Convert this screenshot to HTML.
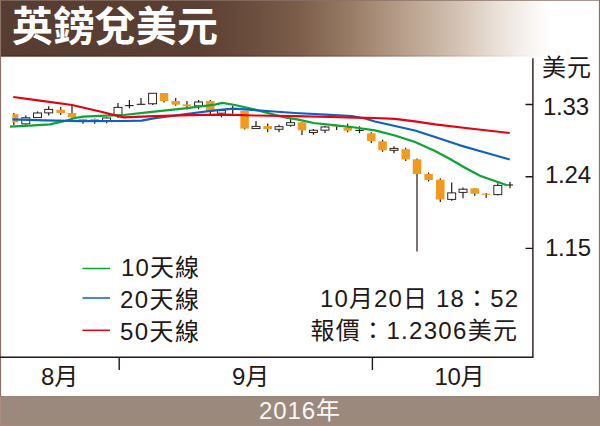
<!DOCTYPE html>
<html lang="zh-Hant"><head><meta charset="utf-8"><title>英鎊兌美元</title>
<style>
html,body{margin:0;padding:0;background:#fff;}
body{width:600px;height:426px;overflow:hidden;font-family:"Liberation Sans",sans-serif;}
svg{display:block}
</style></head><body>
<svg width="600" height="426" viewBox="0 0 600 426" role="img" aria-label="英鎊兌美元 2016年 8月 9月 10月">
<defs>
<linearGradient id="hg" x1="0" y1="0" x2="600" y2="0" gradientUnits="userSpaceOnUse">
<stop offset="0" stop-color="#573c31"/>
<stop offset="0.33" stop-color="#5b3f33"/>
<stop offset="0.417" stop-color="#6a4d3d"/>
<stop offset="0.5" stop-color="#7c5e4b"/>
<stop offset="0.583" stop-color="#987b65"/>
<stop offset="0.667" stop-color="#b69d89"/>
<stop offset="0.75" stop-color="#cfbdad"/>
<stop offset="0.833" stop-color="#ebe2da"/>
<stop offset="0.915" stop-color="#ffffff"/>
</linearGradient>
<linearGradient id="hl" x1="0" y1="0" x2="600" y2="0" gradientUnits="userSpaceOnUse"><stop offset="0" stop-color="#2a1a14" stop-opacity="0.4"/><stop offset="0.5" stop-color="#2a1a14" stop-opacity="0.25"/><stop offset="0.9" stop-color="#2a1a14" stop-opacity="0"/></linearGradient>
</defs>
<rect width="600" height="426" fill="#fff"/>
<rect x="0" y="0" width="600" height="56.6" fill="url(#hg)"/>
<rect x="0" y="55.2" width="600" height="1.4" fill="url(#hl)"/>
<rect x="0" y="0" width="1.1" height="397" fill="#8a7268"/>
<rect x="598.9" y="0" width="1.1" height="397" fill="#8a7268"/>
<rect x="0" y="0" width="600" height="1" fill="#8a7268" fill-opacity="0.75"/>
<rect x="0" y="396.1" width="600" height="29.9" fill="#9c897e"/>
<rect x="0" y="396.1" width="600" height="0.9" fill="#8c786d" fill-opacity="0.55"/>
<rect x="0" y="397" width="1" height="29" fill="#a98e80"/>
<rect x="0" y="425" width="600" height="1" fill="#a98e80" fill-opacity="0.8"/>
<g aria-label="英鎊兌美元"><text x="12" y="41" font-family="'Liberation Sans','Noto Sans CJK TC',sans-serif" font-size="41" font-weight="bold" fill="#fff" textLength="206" lengthAdjust="spacing">英鎊兌美元</text></g>
<g><path d="M13.8 113V125" stroke="#231815" stroke-width="1.2"/><rect x="12.4" y="114.2" width="5.9" height="8.2" fill="#f39a1e"/>
<path d="M25.8 115.4V124.7" stroke="#231815" stroke-width="1.2"/><rect x="21.83" y="117.78" width="7.95" height="6.1" fill="#fff" stroke="#231815" stroke-width="0.95"/>
<path d="M37.5 111.4V117.7" stroke="#231815" stroke-width="1.2"/><rect x="33.53" y="112.98" width="7.95" height="4.6" fill="#fff" stroke="#231815" stroke-width="0.95"/>
<path d="M48.7 106.3V115.4" stroke="#231815" stroke-width="1.2"/><rect x="44.73" y="109.38" width="7.95" height="3.5" fill="#fff" stroke="#231815" stroke-width="0.95"/>
<path d="M60.7 107V115" stroke="#231815" stroke-width="1.2"/><rect x="56.45" y="109.7" width="8.5" height="3.3" fill="#f39a1e"/>
<path d="M72 105V117.4" stroke="#231815" stroke-width="1.2"/><rect x="67.75" y="113" width="8.5" height="4.4" fill="#f39a1e"/>
<path d="M83 118.8V123.7" stroke="#231815" stroke-width="1.2"/><rect x="78.75" y="118.8" width="8.5" height="1.2" fill="#f39a1e"/>
<path d="M94.7 118.4V123.7" stroke="#231815" stroke-width="1.2"/><rect x="90.45" y="119" width="8.5" height="1.2" fill="#f39a1e"/>
<path d="M106.6 117.6V123.3" stroke="#231815" stroke-width="1.2"/><rect x="102.63" y="117.98" width="7.95" height="2.6" fill="#fff" stroke="#231815" stroke-width="0.95"/>
<path d="M118 103V118" stroke="#231815" stroke-width="1.2"/><rect x="114.03" y="107.38" width="7.95" height="7.5" fill="#fff" stroke="#231815" stroke-width="0.95"/>
<path d="M129.4 100V108.3" stroke="#231815" stroke-width="1.2"/><path d="M125.15 105.6H133.65" stroke="#231815" stroke-width="1.1"/>
<path d="M141 98V104.3" stroke="#231815" stroke-width="1.2"/><path d="M136.75 104.3H145.25" stroke="#231815" stroke-width="1.1"/>
<path d="M152.6 92.9V105" stroke="#231815" stroke-width="1.2"/><rect x="148.63" y="93.28" width="7.95" height="10.5" fill="#fff" stroke="#231815" stroke-width="0.95"/>
<path d="M164 93V102.4" stroke="#231815" stroke-width="1.2"/><rect x="159.75" y="93" width="8.5" height="8" fill="#f39a1e"/>
<path d="M175.7 98V105.7" stroke="#231815" stroke-width="1.2"/><rect x="171.45" y="101" width="8.5" height="3.7" fill="#f39a1e"/>
<path d="M187 101V109.6" stroke="#231815" stroke-width="1.2"/><rect x="182.75" y="104.4" width="8.5" height="1.9" fill="#f39a1e"/>
<path d="M198.6 100V109.3" stroke="#231815" stroke-width="1.2"/><rect x="194.63" y="101.98" width="7.95" height="3.9" fill="#fff" stroke="#231815" stroke-width="0.95"/>
<path d="M210.3 100V114.4" stroke="#231815" stroke-width="1.2"/><rect x="206.05" y="101" width="8.5" height="11" fill="#f39a1e"/>
<path d="M221.4 110.2V117.3" stroke="#231815" stroke-width="1.2"/><rect x="217.43" y="110.58" width="7.95" height="2.6" fill="#fff" stroke="#231815" stroke-width="0.95"/>
<path d="M232.7 105.7V113.7" stroke="#231815" stroke-width="1.2"/>
<path d="M244.6 111V129.5" stroke="#231815" stroke-width="1.2"/><rect x="240.35" y="111" width="8.5" height="17.6" fill="#f39a1e"/>
<path d="M256 121V128.7" stroke="#231815" stroke-width="1.2"/><rect x="252.03" y="126.38" width="7.95" height="2.2" fill="#fff" stroke="#231815" stroke-width="0.95"/>
<path d="M267.7 123.4V132.3" stroke="#231815" stroke-width="1.2"/><rect x="263.45" y="126" width="8.5" height="3" fill="#f39a1e"/>
<path d="M279 124.7V132.3" stroke="#231815" stroke-width="1.2"/><rect x="275.03" y="126.68" width="7.95" height="2.6" fill="#fff" stroke="#231815" stroke-width="0.95"/>
<path d="M290.6 119V126.7" stroke="#231815" stroke-width="1.2"/><rect x="286.63" y="122.68" width="7.95" height="2.6" fill="#fff" stroke="#231815" stroke-width="0.95"/>
<path d="M302 122.3V135" stroke="#231815" stroke-width="1.2"/><rect x="297.75" y="122.3" width="8.5" height="8" fill="#f39a1e"/>
<path d="M313.4 129V134.7" stroke="#231815" stroke-width="1.2"/><rect x="309.43" y="130.28" width="7.95" height="2.2" fill="#fff" stroke="#231815" stroke-width="0.95"/>
<path d="M325 125.7V133" stroke="#231815" stroke-width="1.2"/><rect x="321.03" y="126.98" width="7.95" height="3.2" fill="#fff" stroke="#231815" stroke-width="0.95"/>
<path d="M336.6 125.8V130" stroke="#231815" stroke-width="1.2"/><rect x="332.35" y="125.8" width="8.5" height="0.8" fill="#f39a1e"/>
<path d="M347.7 123.7V132.3" stroke="#231815" stroke-width="1.2"/><rect x="343.45" y="127.7" width="8.5" height="3" fill="#f39a1e"/>
<path d="M359.5 126.3V133.2" stroke="#231815" stroke-width="1.2"/><path d="M355.25 130.4H363.75" stroke="#231815" stroke-width="1.1"/>
<path d="M371.3 132.3V143" stroke="#231815" stroke-width="1.2"/><rect x="367.05" y="133.3" width="8.5" height="7.7" fill="#f39a1e"/>
<path d="M382.6 139.7V151.7" stroke="#231815" stroke-width="1.2"/><rect x="378.35" y="141.3" width="8.5" height="9" fill="#f39a1e"/>
<path d="M394 146.3V153.3" stroke="#231815" stroke-width="1.2"/><rect x="390.03" y="148.38" width="7.95" height="1.9" fill="#fff" stroke="#231815" stroke-width="0.95"/>
<path d="M405.7 147.7V161" stroke="#231815" stroke-width="1.2"/><rect x="401.45" y="149.2" width="8.5" height="10.1" fill="#f39a1e"/>
<path d="M417 158.4V251.5" stroke="#231815" stroke-width="1.2"/><rect x="412.75" y="159.3" width="8.5" height="14.7" fill="#f39a1e"/>
<path d="M428.6 172.4V181.6" stroke="#231815" stroke-width="1.2"/><rect x="424.35" y="174" width="8.5" height="6" fill="#f39a1e"/>
<path d="M440.3 178.3V202" stroke="#231815" stroke-width="1.2"/><rect x="436.05" y="179.7" width="8.5" height="19.8" fill="#f39a1e"/>
<path d="M451.7 182.5V200.8" stroke="#231815" stroke-width="1.2"/><rect x="447.73" y="192.88" width="7.95" height="6.5" fill="#fff" stroke="#231815" stroke-width="0.95"/>
<path d="M463 187.5V198.3" stroke="#231815" stroke-width="1.2"/><rect x="459.03" y="189.18" width="7.95" height="3.2" fill="#fff" stroke="#231815" stroke-width="0.95"/>
<path d="M474.7 188.3V195.8" stroke="#231815" stroke-width="1.2"/><rect x="470.45" y="188.3" width="8.5" height="5.4" fill="#f39a1e"/>
<path d="M486.2 193V197.8" stroke="#231815" stroke-width="1.2"/><path d="M481.95 194.2H490.45" stroke="#f39a1e" stroke-width="1.2"/>
<path d="M497.8 183.3V195.5" stroke="#231815" stroke-width="1.2"/><rect x="493.83" y="185.38" width="7.95" height="9.2" fill="#fff" stroke="#231815" stroke-width="0.95"/>
<path d="M510 182V188.3" stroke="#231815" stroke-width="1.2"/><path d="M507 185H513" stroke="#231815" stroke-width="1.1"/></g>
<g><path d="M10 126.7L30 125.7L50 124.3L65 121L75 118L83 116.7L100 115.8L123.7 115L145 112.6L185 108.4L215 104.6L222.3 102.9L235 105L255 109.7L285 117.5L298.3 119.7L313.7 123L338.3 125.7L355 127.5L375 130.3L395 135.5L415 142L435 151L450 159L465 167.7L480 175.8L507 185.3" fill="none" stroke="#0ba535" stroke-width="2.25" stroke-linejoin="round" stroke-linecap="butt"/><path d="M12.4 119.4L45 120.3L80 121.2L125 121L141.7 120.6L155 118.2L190 113.5L215 110.3L233 108.7L260 110.5L295 113L330 114.8L351.7 116L365 118.5L375 121.5L395 126L415 130.5L435 137L460 145.3L485 152.5L509.7 159.5" fill="none" stroke="#0c62c2" stroke-width="2.25" stroke-linejoin="round" stroke-linecap="butt"/><path d="M13.3 97L40 100.7L72 105L100 111.5L123.7 117.3L155 116.2L190 115.2L225 114.6L255 115.5L295 116.2L330 117L355 117.7L375 118L395 118.8L415 121.3L435 124.3L470 128.5L509.7 133" fill="none" stroke="#e60012" stroke-width="2.25" stroke-linejoin="round" stroke-linecap="butt"/></g>
<g stroke="#231815" stroke-width="1.4" fill="none">
<path d="M0 357.3H533.5M532.9 58.3V357.9"/>
<path d="M119.2 357.3V370M372.4 357.3V370"/>
<path d="M525.5 104.5H533M525.5 176.7H533M525.5 248.4H533"/>
</g>
<g stroke-width="1.5" fill="none"><path d="M82.5 268.5H110" stroke="#0ba535"/><path d="M82.5 298H110" stroke="#0c62c2"/><path d="M82.5 330.3H110" stroke="#e60012"/></g>
<g aria-label="美元 1.33 1.24 1.15 10天線 20天線 50天線 10月20日 18：52 報價：1.2306美元 8月 9月 10月" font-family="'Liberation Sans','Noto Sans CJK TC',sans-serif" font-size="24" fill="#231815">
<text x="542" y="75.5" textLength="49" lengthAdjust="spacing">美元</text>
<text x="543" y="115" textLength="46" lengthAdjust="spacing">1.33</text>
<text x="545" y="183.4" textLength="46" lengthAdjust="spacing">1.24</text>
<text x="545" y="255.6" textLength="46" lengthAdjust="spacing">1.15</text>
<text x="121" y="276.2" textLength="78" lengthAdjust="spacing">10天線</text>
<text x="120" y="308.3" textLength="79" lengthAdjust="spacing">20天線</text>
<text x="120" y="340.4" textLength="79" lengthAdjust="spacing">50天線</text>
<text x="320" y="306.9" textLength="198" lengthAdjust="spacing">10月20日 18：52</text>
<text x="310.5" y="338.7" textLength="206.5" lengthAdjust="spacing">報價：1.2306美元</text>
<text x="41" y="385">8月</text>
<text x="232" y="385">9月</text>
<text x="434.5" y="385" textLength="50" lengthAdjust="spacing">10月</text>
</g>
<g aria-label="2016年"><text x="259" y="419.1" font-family="'Liberation Sans','Noto Sans CJK TC',sans-serif" font-size="24" fill="#fbf8f6" textLength="81" lengthAdjust="spacing">2016年</text></g>
</svg>
</body></html>
